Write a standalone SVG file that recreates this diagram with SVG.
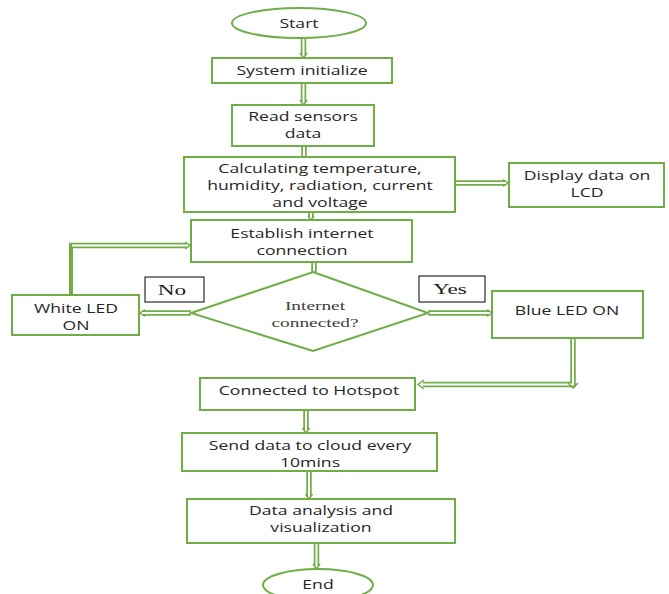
<svg xmlns="http://www.w3.org/2000/svg" width="669" height="594" viewBox="0 0 669 594">
<defs>
<style>
.box{fill:#fff;stroke:#70AD47;stroke-width:2}
.lbl{fill:#fff;stroke:#000;stroke-width:1}
.t{font-family:"Open Sans","Liberation Sans",sans-serif;font-size:12.5px;fill:#262626;text-anchor:middle}
.s{font-family:"Liberation Serif",serif;font-size:15px;fill:#1a1a1a;text-anchor:middle}
.d{font-family:"Liberation Serif",serif;font-size:12.5px;fill:#404040;text-anchor:middle}
.o{fill:none;stroke:#70AD47;stroke-width:5.5;stroke-linejoin:miter}
.i{fill:none;stroke:#fff;stroke-width:2;stroke-linejoin:miter}
.h{fill:none;stroke:#70AD47;stroke-width:1.5;stroke-linejoin:miter}
</style>
</defs>
<rect width="669" height="594" fill="#fff"/>
<g id="connectors">
<path class="o" d="M303.5 39V55"/><path class="i" d="M303.5 39V55"/><path class="h" d="M300 53L303.5 58L307 53"/>
<path class="o" d="M303.5 83V102"/><path class="i" d="M303.5 83V102"/><path class="h" d="M300 100L303.5 105L307 100"/>
<path class="o" d="M304 146V157"/><path class="i" d="M304 146V157"/>
<path class="o" d="M455 183H505"/><path class="i" d="M455 183H505"/><path class="h" d="M503 179.5L508 183L503 186.5"/>
<path class="o" d="M311 212V218"/><path class="i" d="M311 212V218"/><path class="h" d="M308 216L311 220L314 216"/>
<path class="o" d="M314 262V272"/><path class="i" d="M314 262V272"/>
<path class="o" d="M191 313H143"/><path class="i" d="M191 313H143"/><path class="h" d="M145 309.5L140 313L145 316.5"/>
<path d="M71 295V245" fill="none" stroke="#70AD47" stroke-width="4"/>
<path class="o" d="M69 245.5H187"/><path class="i" d="M72 245.5H187"/><path class="h" d="M185 242L190 245.5L185 249"/>
<path class="o" d="M428 313H489"/><path class="i" d="M428 313H489"/><path class="h" d="M487 309.5L492 313L487 316.5"/>
<path class="o" d="M573 338V384.5H423"/><path class="i" d="M573 338V384.5H423"/>
<path class="h" d="M568 383L573 388L578 383"/>
<path class="h" d="M424 380L418 384.5L424 389"/>
<path class="o" d="M306 410V430"/><path class="i" d="M306 410V430"/><path class="h" d="M302.5 428L306 433L309.5 428"/>
<path class="o" d="M309 471V496"/><path class="i" d="M309 471V496"/><path class="h" d="M305.5 494L309 499L312.5 494"/>
<path class="o" d="M316.5 543V566"/><path class="i" d="M316.5 543V566"/><path class="h" d="M313 564L316.5 569L320 564"/>
</g>
<g id="start"><ellipse class="box" cx="299" cy="23" rx="67" ry="15"/><text class="t" transform="translate(299,28) scale(1.41,1)">Start</text></g>
<g id="system"><rect class="box" x="212" y="58" width="180" height="25"/><text class="t" transform="translate(302,75) scale(1.41,1)">System initialize</text></g>
<g id="read"><rect class="box" x="232" y="105" width="142" height="41"/><text class="t" transform="translate(303,121) scale(1.41,1)">Read sensors</text><text class="t" transform="translate(303,138) scale(1.41,1)">data</text></g>
<g id="calc"><rect class="box" x="184" y="157" width="271" height="55"/><text class="t" transform="translate(320,173) scale(1.41,1)">Calculating temperature,</text><text class="t" transform="translate(320,190) scale(1.41,1)">humidity, radiation, current</text><text class="t" transform="translate(320,207) scale(1.41,1)">and voltage</text></g>
<g id="display"><rect class="box" x="509" y="163" width="155" height="44"/><text class="t" transform="translate(587,180) scale(1.41,1)">Display data on</text><text class="t" transform="translate(587,197) scale(1.41,1)">LCD</text></g>
<g id="establish"><rect class="box" x="191" y="220" width="221" height="42"/><text class="t" transform="translate(302,238) scale(1.41,1)">Establish internet</text><text class="t" transform="translate(302,255) scale(1.41,1)">connection</text></g>
<g id="decision"><polygon class="box" points="313,272 428,313 313,351 191,313"/><text class="d" transform="translate(315,310) scale(1.55,1)">Internet</text><text class="d" transform="translate(315,327) scale(1.55,1)">connected?</text></g>
<g id="no"><rect class="lbl" x="145" y="277" width="59" height="25"/><text class="s" transform="translate(172,295) scale(1.55,1)">No</text></g>
<g id="yes"><rect class="lbl" x="419" y="276" width="66" height="26"/><text class="s" transform="translate(450,294) scale(1.55,1)">Yes</text></g>
<g id="white"><rect class="box" x="12" y="295" width="127" height="40"/><text class="t" transform="translate(76,313) scale(1.41,1)">White LED</text><text class="t" transform="translate(76,330) scale(1.41,1)">ON</text></g>
<g id="blue"><rect class="box" x="492" y="291" width="151" height="47"/><text class="t" transform="translate(567,315) scale(1.41,1)">Blue LED ON</text></g>
<g id="hotspot"><rect class="box" x="200" y="378" width="215" height="32"/><text class="t" transform="translate(309,395) scale(1.41,1)">Connected to Hotspot</text></g>
<g id="send"><rect class="box" x="182" y="433" width="255" height="38"/><text class="t" transform="translate(310,450) scale(1.41,1)">Send data to cloud every</text><text class="t" transform="translate(310,467) scale(1.41,1)">10mins</text></g>
<g id="analysis"><rect class="box" x="187" y="499" width="268" height="44"/><text class="t" transform="translate(321,515) scale(1.41,1)">Data analysis and</text><text class="t" transform="translate(321,532) scale(1.41,1)">visualization</text></g>
<g id="end"><ellipse class="box" cx="318" cy="585" rx="55" ry="16"/><text class="t" transform="translate(318,589) scale(1.41,1)">End</text></g>
</svg>
